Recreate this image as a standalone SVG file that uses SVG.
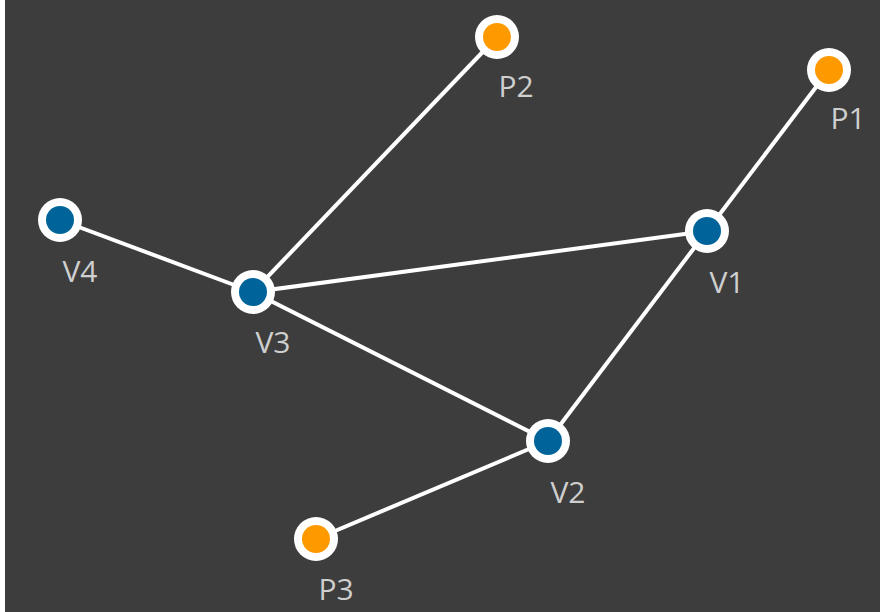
<svg xmlns="http://www.w3.org/2000/svg" width="880" height="612" viewBox="0 0 880 612">
<style>
.edge{stroke:#ffffff;stroke-width:4;fill:none}
.ring{fill:#ffffff}
.v{fill:#00649a}
.p{fill:#ff9900}
.lbl{font-family:"Open Sans","DejaVu Sans",sans-serif;font-size:30px;fill:#cfcfcf;text-anchor:middle}
</style>
<rect x="0" y="0" width="880" height="612" fill="#ffffff"/>
<rect x="5" y="0" width="875" height="612" fill="#3d3d3d"/>
<g id="connectors">
<line class="edge" x1="253" y1="292" x2="497" y2="37"/>
<line class="edge" x1="253" y1="292" x2="60" y2="220"/>
<line class="edge" x1="253" y1="292" x2="707" y2="231"/>
<line class="edge" x1="253" y1="292" x2="548" y2="441"/>
<line class="edge" x1="707" y1="231" x2="829" y2="70"/>
<line class="edge" x1="707" y1="231" x2="548" y2="441"/>
<line class="edge" x1="548" y1="441" x2="316" y2="539"/>
</g>
<g id="P2"><circle class="ring" cx="497" cy="37" r="22"/><circle class="p" cx="497" cy="37" r="14"/><text class="lbl" x="516" y="97">P2</text></g>
<g id="P1"><circle class="ring" cx="829" cy="70" r="22"/><circle class="p" cx="829" cy="70" r="14"/><text class="lbl" x="848" y="129">P1</text></g>
<g id="V4"><circle class="ring" cx="60" cy="220" r="22"/><circle class="v" cx="60" cy="220" r="14"/><text class="lbl" x="80" y="282">V4</text></g>
<g id="V3"><circle class="ring" cx="253" cy="292" r="22"/><circle class="v" cx="253" cy="292" r="14"/><text class="lbl" x="273" y="353">V3</text></g>
<g id="V1"><circle class="ring" cx="707" cy="231" r="22"/><circle class="v" cx="707" cy="231" r="14"/><text class="lbl" x="727" y="293">V1</text></g>
<g id="V2"><circle class="ring" cx="548" cy="441" r="22"/><circle class="v" cx="548" cy="441" r="14"/><text class="lbl" x="568" y="503">V2</text></g>
<g id="P3"><circle class="ring" cx="316" cy="539" r="22"/><circle class="p" cx="316" cy="539" r="14"/><text class="lbl" x="336" y="600">P3</text></g>
</svg>
